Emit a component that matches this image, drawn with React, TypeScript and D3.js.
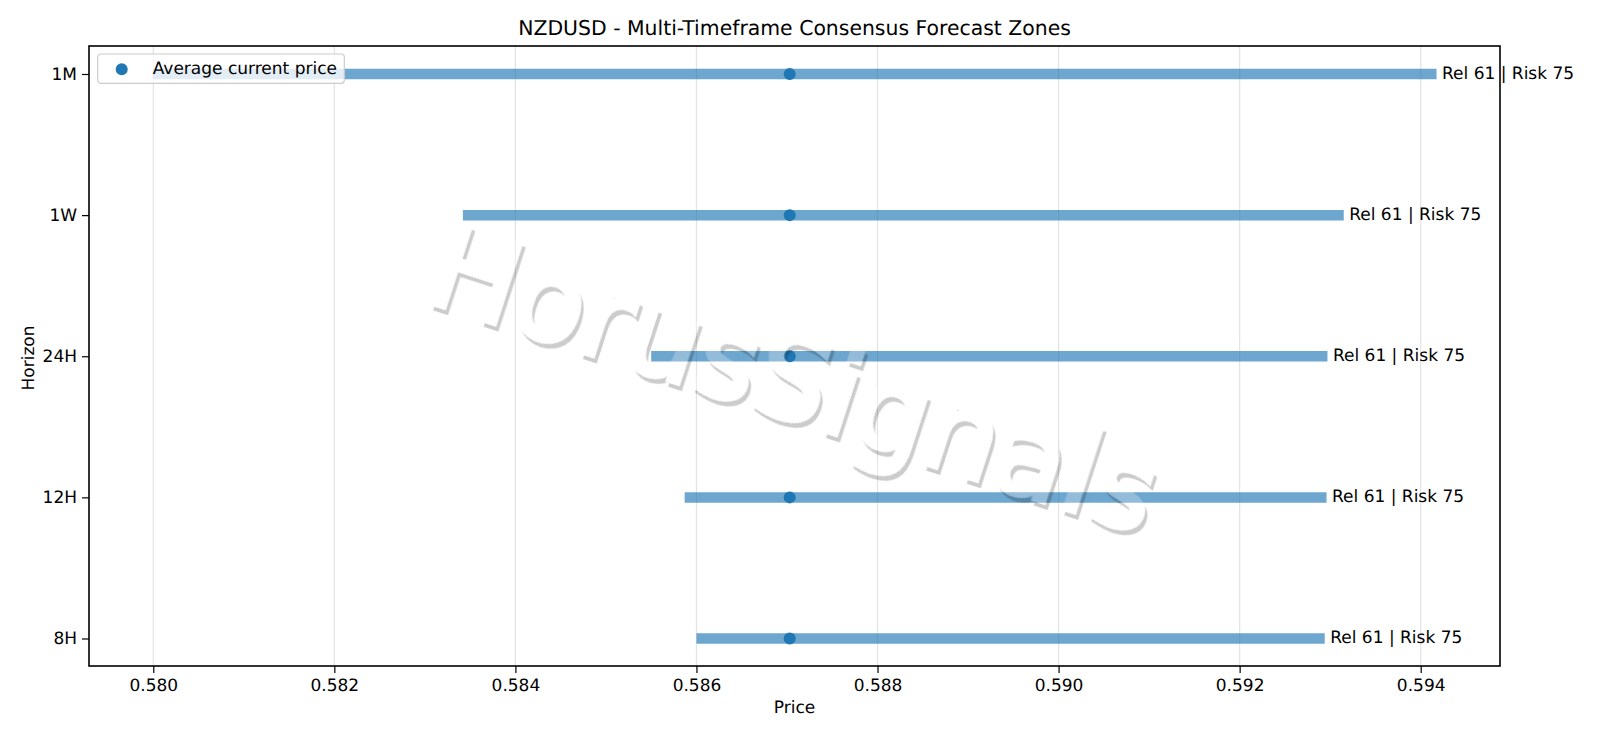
import { useEffect, useRef } from 'react';
import * as d3 from 'd3';

const horizons = ['8H', '12H', '24H', '1W', '1M'];
const zoneLow = [0.586, 0.58587, 0.5855, 0.58342, 0.58];
const zoneHigh = [0.59294, 0.59296, 0.59297, 0.59315, 0.594175];
const currentPrice = [0.58703, 0.58703, 0.58703, 0.58703, 0.58703];
const reliability = [61, 61, 61, 61, 61];
const risk = [75, 75, 75, 75, 75];
const priceTicks = [0.58, 0.582, 0.584, 0.586, 0.588, 0.59, 0.592, 0.594];

const FONT = '"DejaVu Sans", sans-serif';

export default function App() {
  const svgRef = useRef<SVGSVGElement | null>(null);

  useEffect(() => {
    if (!svgRef.current) return;

    const width = 1600;
    const height = 738;
    const margin = { top: 46, right: 100, bottom: 72, left: 89 };
    const innerWidth = width - margin.left - margin.right;
    const innerHeight = height - margin.top - margin.bottom;

    const svg = d3.select(svgRef.current);
    svg.selectAll('*').remove();
    svg.attr('width', width).attr('height', height);

    const x = d3.scaleLinear().domain([0.57929, 0.594876]).range([0, innerWidth]);
    const y = d3
      .scalePoint<string>()
      .domain(horizons)
      .range([innerHeight - 27.5, 28]);

    // Watermark: white glyphs with an offset shadow that does not show through them
    const filter = svg
      .append('defs')
      .append('filter')
      .attr('id', 'wm')
      .attr('x', '-10%')
      .attr('y', '-30%')
      .attr('width', '120%')
      .attr('height', '160%');
    filter.append('feOffset').attr('in', 'SourceAlpha').attr('dx', 3.5).attr('dy', 3.5).attr('result', 'off');
    filter.append('feFlood').attr('flood-color', '#000').attr('flood-opacity', 0.2).attr('result', 'grey');
    filter.append('feComposite').attr('in', 'grey').attr('in2', 'off').attr('operator', 'in').attr('result', 'shadow');
    filter.append('feComposite').attr('in', 'shadow').attr('in2', 'SourceAlpha').attr('operator', 'out').attr('result', 'edge');
    filter.append('feFlood').attr('flood-color', '#fff').attr('flood-opacity', 0.25).attr('result', 'white');
    filter.append('feComposite').attr('in', 'white').attr('in2', 'SourceAlpha').attr('operator', 'in').attr('result', 'face');
    const merge = filter.append('feMerge');
    merge.append('feMergeNode').attr('in', 'edge');
    merge.append('feMergeNode').attr('in', 'face');

    const g = svg.append('g').attr('transform', `translate(${margin.left},${margin.top})`);

    // Grid lines
    g.selectAll('.grid-line-x')
      .data(priceTicks)
      .enter()
      .append('line')
      .attr('class', 'grid-line-x')
      .attr('x1', (d) => x(d))
      .attr('x2', (d) => x(d))
      .attr('y1', 0)
      .attr('y2', innerHeight)
      .attr('stroke', '#b0b0b0')
      .attr('stroke-opacity', 0.35)
      .attr('stroke-width', 1.2);

    // Zones
    g.selectAll('.zone')
      .data(horizons)
      .enter()
      .append('line')
      .attr('class', 'zone')
      .attr('x1', (_, i) => x(zoneLow[i]))
      .attr('x2', (_, i) => x(zoneHigh[i]))
      .attr('y1', (d) => y(d)!)
      .attr('y2', (d) => y(d)!)
      .attr('stroke', '#1f77b4')
      .attr('stroke-opacity', 0.65)
      .attr('stroke-width', 10.5);

    // Current price points
    g.selectAll('.price-point')
      .data(horizons)
      .enter()
      .append('circle')
      .attr('class', 'price-point')
      .attr('cx', (_, i) => x(currentPrice[i]))
      .attr('cy', (d) => y(d)!)
      .attr('r', 6)
      .attr('fill', '#1f77b4');

    // Frame
    g.append('rect')
      .attr('width', innerWidth)
      .attr('height', innerHeight)
      .attr('fill', 'none')
      .attr('stroke', '#000')
      .attr('stroke-width', 1.6);

    // Labels to the right of each zone
    g.selectAll('.zone-label')
      .data(horizons)
      .enter()
      .append('text')
      .attr('class', 'zone-label')
      .attr('x', (_, i) => x(zoneHigh[i]) + 5.5)
      .attr('y', (d) => y(d)! + 4.5)
      .attr('font-family', FONT)
      .attr('font-size', '17px')
      .attr('fill', '#000')
      .text((_, i) => `Rel ${reliability[i]} | Risk ${risk[i]}`);

    // X axis
    const xAxis = g
      .append('g')
      .attr('transform', `translate(0,${innerHeight})`)
      .call(
        d3
          .axisBottom(x)
          .tickValues(priceTicks)
          .tickSize(7)
          .tickPadding(6)
          .tickFormat((d) => Number(d).toFixed(3))
      );

    // Y axis
    const yAxis = g.append('g').call(d3.axisLeft(y).tickSize(7).tickPadding(5));

    [xAxis, yAxis].forEach((axis) => {
      axis.select('.domain').remove();
      axis.selectAll('line').attr('stroke', '#000').attr('stroke-width', 1.2);
      axis.selectAll('text').attr('font-family', FONT).attr('font-size', '17px').attr('fill', '#000');
    });

    // Legend
    const legend = g.append('g').attr('transform', 'translate(8.7,8)');
    legend
      .append('rect')
      .attr('width', 246.6)
      .attr('height', 29.3)
      .attr('rx', 3)
      .attr('fill', '#fff')
      .attr('fill-opacity', 0.8)
      .attr('stroke', '#ccc')
      .attr('stroke-width', 1.2);
    legend.append('circle').attr('cx', 24).attr('cy', 15.3).attr('r', 6).attr('fill', '#1f77b4');
    legend
      .append('text')
      .attr('x', 55)
      .attr('y', 20)
      .attr('font-family', FONT)
      .attr('font-size', '17px')
      .attr('fill', '#000')
      .text('Average current price');

    // Titles
    svg
      .append('text')
      .attr('x', margin.left + innerWidth / 2)
      .attr('y', 35)
      .attr('text-anchor', 'middle')
      .attr('font-family', FONT)
      .attr('font-size', '20.4px')
      .attr('fill', '#000')
      .text('NZDUSD - Multi-Timeframe Consensus Forecast Zones');
    svg
      .append('text')
      .attr('x', margin.left + innerWidth / 2)
      .attr('y', 713)
      .attr('text-anchor', 'middle')
      .attr('font-family', FONT)
      .attr('font-size', '17px')
      .attr('fill', '#000')
      .text('Price');
    svg
      .append('text')
      .attr('transform', `translate(34,${margin.top + innerHeight / 2 + 2}) rotate(-90)`)
      .attr('text-anchor', 'middle')
      .attr('font-family', FONT)
      .attr('font-size', '17px')
      .attr('fill', '#000')
      .text('Horizon');

    svg
      .append('text')
      .attr('transform', 'translate(792,387) rotate(18)')
      .attr('text-anchor', 'middle')
      .attr('dominant-baseline', 'middle')
      .attr('font-family', FONT)
      .attr('font-size', '116px')
      .attr('fill', '#fff')
      .attr('stroke', '#fff')
      .attr('stroke-width', 4)
      .attr('filter', 'url(#wm)')
      .text('HorusSignals');
  }, []);

  return (
    <svg
      ref={svgRef}
      style={{ position: 'absolute', left: 0, top: 0, display: 'block', background: '#fff', textRendering: 'geometricPrecision' }}
    />
  );
}
